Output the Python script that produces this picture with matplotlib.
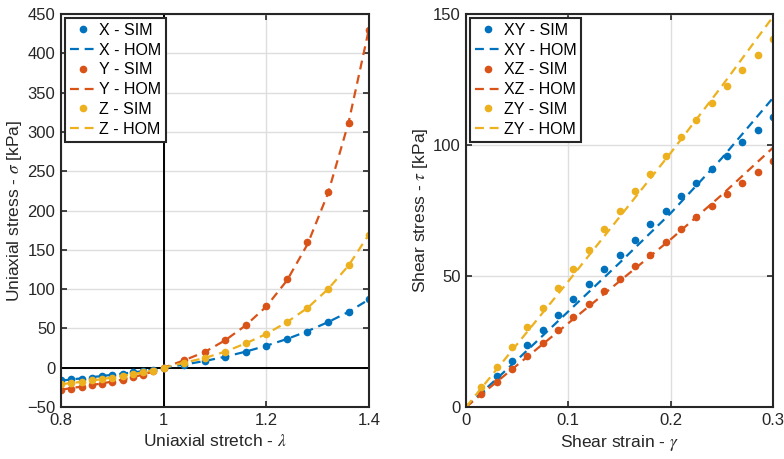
import numpy as np
import matplotlib
matplotlib.use("Agg")
import matplotlib.pyplot as plt

plt.rcParams['font.family'] = ['Liberation Sans', 'DejaVu Sans']
plt.rcParams['mathtext.fontset'] = 'stix'

# --- uniaxial data (left) ---
stretch = [0.80, 0.82, 0.84, 0.86, 0.88, 0.90, 0.92, 0.94, 0.96, 0.98, 1.00,
           1.04, 1.08, 1.12, 1.16, 1.20, 1.24, 1.28, 1.32, 1.36, 1.40]
x_sim = [-16, -15, -14, -13, -11, -9.5, -7.7, -6, -4.3, -2.5, 0,
         4, 8.5, 14, 20.5, 28, 36, 46, 58, 71, 87]
y_sim = [-28.6, -27, -25, -22.6, -20.5, -18, -15.4, -12, -9, -4.7, 0,
         9.5, 20, 35, 54, 79, 113, 160, 224, 312, 430]
z_sim = [-21, -19.7, -18, -16, -14.5, -13, -10, -8.5, -6, -4.3, 0,
         6.4, 12.4, 20.5, 31, 43, 58, 76, 100, 131, 169]
x_hom = [-16.5, -15, -13.5, -12, -10.5, -9, -7.5, -6, -4.3, -2.3, 0,
         4, 8.5, 14, 20.5, 28, 36.5, 46.5, 58, 71, 87]
y_hom = [-28, -26, -24, -22, -20, -17.5, -15, -12, -8.8, -4.7, 0,
         9.5, 20, 35, 54, 78, 111, 157, 222, 312, 432]
z_hom = [-21, -19.5, -18, -16.3, -14.5, -12.5, -10.3, -8.2, -5.8, -3.2, 0,
         6.4, 12.4, 20.5, 31, 43, 58, 76, 100, 130, 170]

# --- shear data (right) ---
strain = [0, 0.015, 0.03, 0.045, 0.06, 0.075, 0.09, 0.105, 0.12, 0.135, 0.15,
          0.165, 0.18, 0.195, 0.21, 0.225, 0.24, 0.255, 0.27, 0.285, 0.3]
xy_sim = [0, 5.9, 11.8, 17.7, 23.7, 29.5, 35.3, 41.1, 46.8, 52.5, 58.1,
          63.7, 69.7, 75.0, 80.4, 85.7, 90.8, 95.9, 101.0, 105.9, 110.8]
xz_sim = [0, 5.1, 9.7, 14.6, 19.4, 24.6, 29.5, 34.4, 39.2, 44.1, 49.0,
          53.7, 58.2, 62.9, 67.9, 72.5, 76.8, 81.2, 85.4, 89.8, 94.0]
zy_sim = [0, 7.6, 15.2, 22.8, 30.4, 37.8, 45.3, 52.8, 60.1, 68.0, 75.0,
          82.3, 89.1, 96.0, 102.9, 109.6, 116.0, 122.4, 128.7, 134.5, 140.6]
strain_hom = [0, 0.05, 0.1, 0.15, 0.2, 0.25, 0.3]
xy_hom = [0, 18, 36.5, 55, 74, 95, 118]
xz_hom = [0, 16, 32, 48, 64, 81, 99]
zy_hom = [0, 24, 48, 72.5, 97, 122.5, 149]

c1, c2, c3 = '#0072BD', '#D95319', '#EDB120'
dash = (0, (4, 2.6))

fig = plt.figure(figsize=(7.84, 4.59), dpi=100)
ax1 = fig.add_axes([0.0778, 0.1133, 0.393, 0.856])
ax2 = fig.add_axes([0.5944, 0.1133, 0.3916, 0.856])


def style(ax):
    ax.grid(True, color='#dedede', linewidth=1.0)
    ax.set_axisbelow(True)
    for s in ax.spines.values():
        s.set_linewidth(1.5)
        s.set_color('#262626')
    ax.tick_params(direction='in', top=True, right=True, length=4, width=1.2,
                   labelsize=12, colors='#262626', pad=4)


ms = 4.5
ax1.axvline(1, color='k', lw=1.4, zorder=1.5)
ax1.axhline(0, color='k', lw=1.4, zorder=1.5)
ax1.plot(stretch, x_sim, 'o', color=c1, ms=ms, label='X - SIM')
ax1.plot(stretch, x_hom, ls=dash, color=c1, lw=1.6, label='X - HOM')
ax1.plot(stretch, y_sim, 'o', color=c2, ms=ms, label='Y - SIM')
ax1.plot(stretch, y_hom, ls=dash, color=c2, lw=1.6, label='Y - HOM')
ax1.plot(stretch, z_sim, 'o', color=c3, ms=ms, label='Z - SIM')
ax1.plot(stretch, z_hom, ls=dash, color=c3, lw=1.6, label='Z - HOM')
ax1.set_xlim(0.8, 1.4)
ax1.set_ylim(-50, 450)
ax1.set_xticks([0.8, 1.0, 1.2, 1.4])
ax1.set_xticklabels(['0.8', '1', '1.2', '1.4'])
ax1.set_yticks(np.arange(-50, 451, 50))
ax1.set_xlabel(r'Uniaxial stretch - $\lambda$', fontsize=12.5, color='#262626')
ax1.set_ylabel(r'Uniaxial stress - $\sigma$ [kPa]', fontsize=12.5, color='#262626', labelpad=2)
style(ax1)

ax2.plot(strain, xy_sim, 'o', color=c1, ms=ms, label='XY - SIM')
ax2.plot(strain_hom, xy_hom, ls=dash, color=c1, lw=1.6, label='XY - HOM')
ax2.plot(strain, xz_sim, 'o', color=c2, ms=ms, label='XZ - SIM')
ax2.plot(strain_hom, xz_hom, ls=dash, color=c2, lw=1.6, label='XZ - HOM')
ax2.plot(strain, zy_sim, 'o', color=c3, ms=ms, label='ZY - SIM')
ax2.plot(strain_hom, zy_hom, ls=dash, color=c3, lw=1.6, label='ZY - HOM')
ax2.set_xlim(0, 0.3)
ax2.set_ylim(0, 150)
ax2.set_xticks([0, 0.1, 0.2, 0.3])
ax2.set_xticklabels(['0', '0.1', '0.2', '0.3'])
ax2.set_yticks([0, 50, 100, 150])
ax2.set_xlabel(r'Shear strain - $\gamma$', fontsize=12.5, color='#262626')
ax2.set_ylabel(r'Shear stress - $\tau$ [kPa]', fontsize=12.5, color='#262626', labelpad=2)
style(ax2)

for ax in (ax1, ax2):
    leg = ax.legend(loc='upper left', fontsize=11.5, fancybox=False, framealpha=1,
                    edgecolor='#262626', handlelength=1.6, handletextpad=0.2,
                    borderpad=0.3, labelspacing=0.3, borderaxespad=0.25)
    leg.get_frame().set_linewidth(1.5)

fig.savefig('out.png', dpi=100)
